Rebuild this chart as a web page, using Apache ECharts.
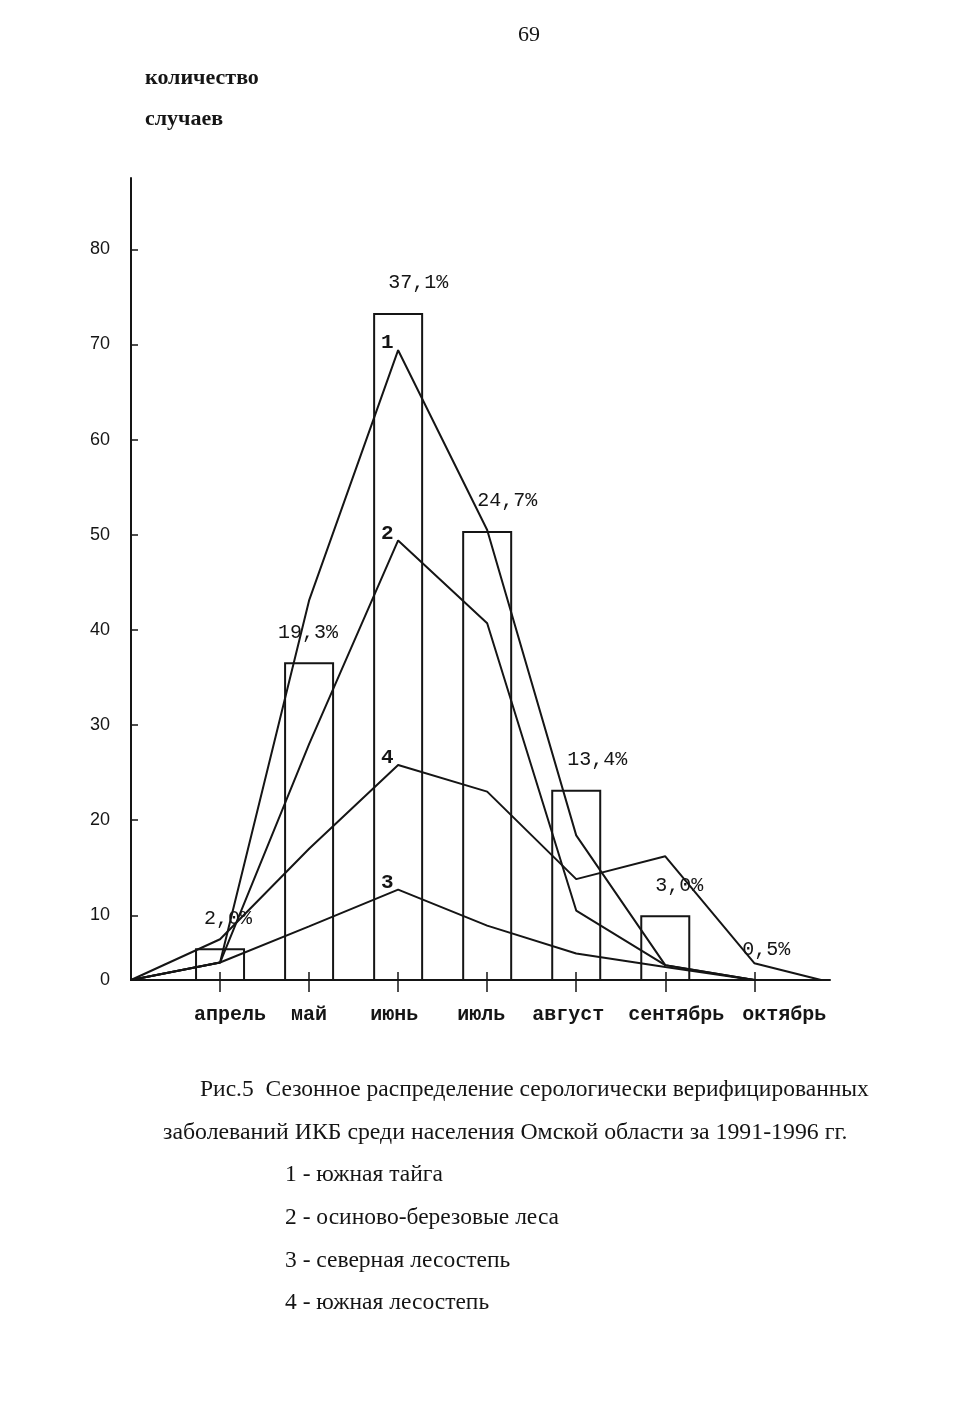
<!DOCTYPE html>
<html>
<head>
<meta charset="utf-8">
<script src="https://cdn.jsdelivr.net/npm/echarts@6/dist/echarts.min.js"></script>
<style>
  html, body { margin: 0; padding: 0; background: #ffffff; }
  #chart { width: 953px; height: 1414px; }
</style>
</head>
<body>
<div id="chart"></div>
<script>
// ---------- data ----------
const MONTHS = ['апрель', 'май', 'июнь', 'июль', 'август', 'сентябрь', 'октябрь'];
// number of cases (bars), on the figure's own y scale
const BAR_CASES = [4.9, 36.6, 73.3, 50.4, 23.2, 10.0, 0];
const BAR_PCT = ['2,0%', '19,3%', '37,1%', '24,7%', '13,4%', '3,0%', '0,5%'];
// landscape zones (lines), values per month
const ZONE_1 = [2.7, 43.1, 69.4, 50.5, 18.4, 2.3, 0];    // южная тайга
const ZONE_2 = [2.7, 28.0, 49.4, 40.7, 10.5, 2.3, 0];    // осиново-березовые леса
const ZONE_3 = [2.7, 8.3, 12.7, 8.4, 4.1, 2.0, 0];       // северная лесостепь
const ZONE_4 = [6.3, 17.0, 25.8, 23.0, 13.8, 16.2, 2.6]; // южная лесостепь
const ZONE_4_END_X = 7.75;  // line 4 reaches zero a little after October
const ZONE_NAMES = ['1', '2', '3', '4'];
const Y_TICKS = [0, 10, 20, 30, 40, 50, 60, 70, 80];

const TOP_TEXT = ['количество', 'случаев'];
const PAGE_NO = '69';
const CAPTION = [
  'Рис.5  Сезонное распределение серологически верифицированных',
  'заболеваний ИКБ среди населения Омской области за 1991-1996 гг.'
];
const LEGEND_LINES = [
  '1 - южная тайга',
  '2 - осиново-березовые леса',
  '3 - северная лесостепь',
  '4 - южная лесостепь'
];

// ---------- the figure's y axis: the 0–10 step is drawn shorter than the others ----------
const ZERO_AT = 3.2;
const axisY = v => (v < 10 ? ZERO_AT + v * (10 - ZERO_AT) / 10 : v);
const Y_TICK_POS = Y_TICKS.map(axisY);

// ---------- styling (kept apart from the data) ----------
const INK = '#151515';
const MONO = '"Liberation Mono", "DejaVu Sans Mono", monospace';
const SERIF = '"Liberation Serif", "DejaVu Serif", serif';
const PCT_DX = [8, -1, 20, 20, 21, 14, 12];
const MONTH_SHIFT = [10, 0, -4, -6, -8, 11, 30];

const monthRich = {};
MONTH_SHIFT.forEach((s, i) => {
  monthRich['m' + i] = {
    fontFamily: MONO, fontSize: 20, fontWeight: 'bold', color: INK,
    padding: s >= 0 ? [0, 0, 0, 2 * s] : [0, -2 * s, 0, 0]
  };
});

const pctLabelStyle = { fontFamily: MONO, fontSize: 20, color: INK };

// bars with a visible height; months with zero cases only carry their percentage label
const barData = [];
const zeroLabelData = [];
BAR_CASES.forEach((v, i) => {
  const item = { value: [i + 1, axisY(v)], label: { offset: [PCT_DX[i], 0] }, pct: BAR_PCT[i] };
  if (v > 0) barData.push(item); else zeroLabelData.push(item);
});

function lineData(vals, idx, endX) {
  const pts = [{ value: [0, axisY(0)] }];
  vals.forEach((v, i) => {
    const item = { value: [i + 1, axisY(v)] };
    if (i === 2) {
      item.label = {
        show: true, formatter: ZONE_NAMES[idx], position: 'left',
        distance: 4, offset: [0, -7],
        fontFamily: MONO, fontSize: 21, fontWeight: 'bold', color: INK
      };
    }
    pts.push(item);
  });
  if (endX !== undefined) pts.push({ value: [endX, axisY(0)] });
  return pts;
}

function lineSeries(vals, idx, endX) {
  return {
    type: 'line',
    data: lineData(vals, idx, endX),
    symbol: 'circle', symbolSize: 1, showSymbol: true,
    itemStyle: { color: INK },
    lineStyle: { color: INK, width: 2 },
    label: { show: false },
    emphasis: { disabled: true },
    z: 3
  };
}

const chart = echarts.init(document.getElementById('chart'), null, { renderer: 'canvas' });

const graphics = [];
graphics.push({
  type: 'text', x: 529, y: 35,
  style: { text: PAGE_NO, fontFamily: SERIF, fontSize: 22, fill: INK, textAlign: 'center', textVerticalAlign: 'middle' }
});
TOP_TEXT.forEach((t, i) => graphics.push({
  type: 'text', x: 145, y: 78 + i * 41,
  style: { text: t, fontFamily: SERIF, fontSize: 22, fontWeight: 'bold', fill: INK, textAlign: 'left', textVerticalAlign: 'middle' }
}));
graphics.push({
  type: 'text', x: 200, y: 1090,
  style: { text: CAPTION[0], fontFamily: SERIF, fontSize: 23.5, fill: INK, textAlign: 'left', textVerticalAlign: 'middle' }
});
graphics.push({
  type: 'text', x: 163, y: 1133,
  style: { text: CAPTION[1], fontFamily: SERIF, fontSize: 23.8, fill: INK, textAlign: 'left', textVerticalAlign: 'middle' }
});
LEGEND_LINES.forEach((t, i) => graphics.push({
  type: 'text', x: 285, y: 1175 + i * 42.7,
  style: { text: t, fontFamily: SERIF, fontSize: 23.5, fill: INK, textAlign: 'left', textVerticalAlign: 'middle' }
}));

const option = {
  animation: false,
  backgroundColor: '#ffffff',
  grid: { left: 131, right: 123, top: 178, bottom: 434, containLabel: false },
  xAxis: [
    {
      type: 'value', min: 0, max: 7.85, position: 'bottom',
      axisLine: { show: true, onZero: false, lineStyle: { color: INK, width: 2 } },
      axisTick: { show: true, inside: false, length: 12, customValues: [1, 2, 3, 4, 5, 6, 7], lineStyle: { color: INK, width: 1.5 } },
      axisLabel: {
        show: true, margin: 25, customValues: [1, 2, 3, 4, 5, 6, 7],
        formatter: v => { const i = Math.round(v) - 1; return '{m' + i + '|' + MONTHS[i] + '}'; },
        rich: monthRich, fontFamily: MONO, fontSize: 20, color: INK
      },
      splitLine: { show: false }
    },
    {
      type: 'value', min: 0, max: 7.85, position: 'bottom', offset: 0,
      axisLine: { show: false },
      axisTick: { show: true, inside: true, length: 8, customValues: [1, 2, 3, 4, 5, 6, 7], lineStyle: { color: INK, width: 1.5 } },
      axisLabel: { show: false },
      splitLine: { show: false }
    }
  ],
  yAxis: {
    type: 'value', min: ZERO_AT, max: 87.5,
    axisLine: { show: true, onZero: false, lineStyle: { color: INK, width: 2 } },
    axisTick: { show: true, inside: true, length: 7, customValues: Y_TICK_POS, lineStyle: { color: INK, width: 1.5 } },
    axisLabel: {
      show: true, margin: 21, customValues: Y_TICK_POS,
      formatter: v => {
        const i = Y_TICK_POS.findIndex(p => Math.abs(p - v) < 1e-6);
        return i >= 0 ? String(Y_TICKS[i]) : '';
      },
      fontFamily: '"Liberation Sans", Arial, sans-serif', fontSize: 18, color: INK
    },
    splitLine: { show: false }
  },
  graphic: { elements: graphics },
  series: [
    {
      type: 'bar',
      data: barData,
      barWidth: 50,
      itemStyle: { color: 'rgba(255,255,255,0)', borderColor: INK, borderWidth: 2 },
      label: Object.assign({
        show: true, position: 'top', distance: 20,
        formatter: p => p.data.pct
      }, pctLabelStyle),
      emphasis: { disabled: true },
      z: 2
    },
    {
      type: 'scatter',
      data: zeroLabelData,
      symbolSize: 0,
      itemStyle: { color: INK, opacity: 1 },
      label: Object.assign({
        show: true, position: 'top', distance: 20, opacity: 1,
        formatter: p => p.data.pct
      }, pctLabelStyle),
      emphasis: { disabled: true },
      z: 2
    },
    lineSeries(ZONE_1, 0),
    lineSeries(ZONE_2, 1),
    lineSeries(ZONE_3, 2),
    lineSeries(ZONE_4, 3, ZONE_4_END_X)
  ]
};

chart.setOption(option);
</script>
</body>
</html>
